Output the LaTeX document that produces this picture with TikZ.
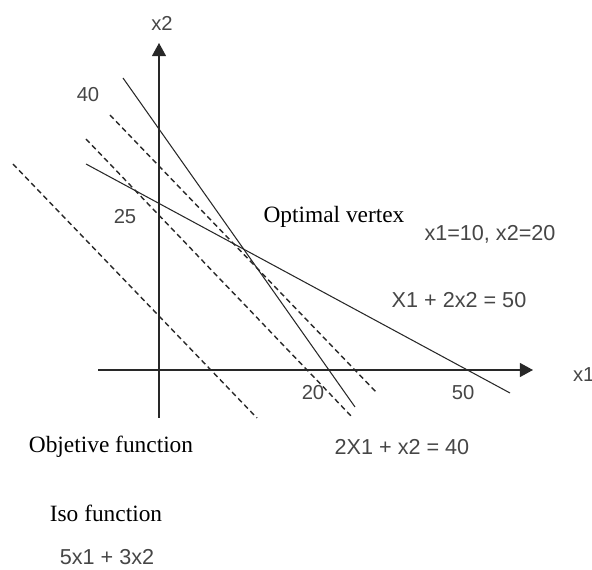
\documentclass[tikz,border=0pt]{standalone}
\usepackage{fontspec}
\setmainfont{Liberation Serif}
\newfontfamily\lblfont{Liberation Sans}
\usepackage{xcolor}
\definecolor{plotgray}{RGB}{40,40,40}
\definecolor{lblgray}{RGB}{70,70,70}
\usepackage{tikz}
\usetikzlibrary{arrows.meta}

\begin{document}
\begin{tikzpicture}[x=0.02cm, y=-0.02cm,
  axis/.style={plotgray, line width=0.8pt, -{Triangle[length=7.5pt,width=8pt]}},
  constraint/.style={plotgray, line width=0.6pt},
  isoline/.style={plotgray, line width=0.8pt, dash pattern=on 3pt off 2pt},
  numlbl/.style={font=\lblfont\fontsize{11.5}{13}\selectfont, lblgray, inner sep=1pt},
  eqlbl/.style={font=\lblfont\fontsize{12.3}{14}\selectfont, lblgray, inner sep=1pt},
  txtlbl/.style={font=\fontsize{13.3}{16}\selectfont, fill=white, inner sep=2pt}]
\useasboundingbox (0,0) rectangle (592,570);

% Axes
\coordinate (o2) at (159,418);
\coordinate (t2) at (159,43);
\coordinate (o1) at (98,370);
\coordinate (t1) at (533,370);
\draw[axis] (o2) -- (t2);
\draw[axis] (o1) -- (t1);
\node[numlbl] (x2lbl) at (162,23) {x2};
\node[numlbl, anchor=west] (x1lbl) at (571,375) {x1};

% Constraints
\coordinate (c1a) at (123,78);
\coordinate (c1b) at (355,407);
\coordinate (c2a) at (86,164);
\coordinate (c2b) at (510,393);
\draw[constraint] (c1a) -- (c1b);
\draw[constraint] (c2a) -- (c2b);

% Iso lines of the objective
\coordinate (isoAa) at (13,164);
\coordinate (isoAb) at (257,418);
\coordinate (isoBa) at (86,139);
\coordinate (isoBb) at (353,418);
\coordinate (isoCa) at (110,115);
\coordinate (isoCb) at (377,393);
\draw[isoline] (isoAa) -- (isoAb);
\draw[isoline] (isoBa) -- (isoBb);
\draw[isoline] (isoCa) -- (isoCb);

% Axis values
\node[numlbl] (v40) at (88,95) {40};
\node[numlbl] (v25) at (125,217) {25};
\node[numlbl] (v20) at (313,393) {20};
\node[numlbl] (v50) at (463,393) {50};

% Labels
\node[txtlbl] (optlbl) at (334,217) {Optimal vertex};
\node[eqlbl] (optval) at (490,234) {x1=10, x2=20};
\node[eqlbl] (eq2) at (459,300) {X1 + 2x2 = 50};
\node[eqlbl] (eq1) at (402,447) {2X1 + x2 = 40};
\node[txtlbl] (objlbl) at (111,447) {Objetive function};
\node[txtlbl] (isolbl) at (106,513) {Iso function};
\node[eqlbl] (isoval) at (107,557) {5x1 + 3x2};

\end{tikzpicture}
\end{document}
